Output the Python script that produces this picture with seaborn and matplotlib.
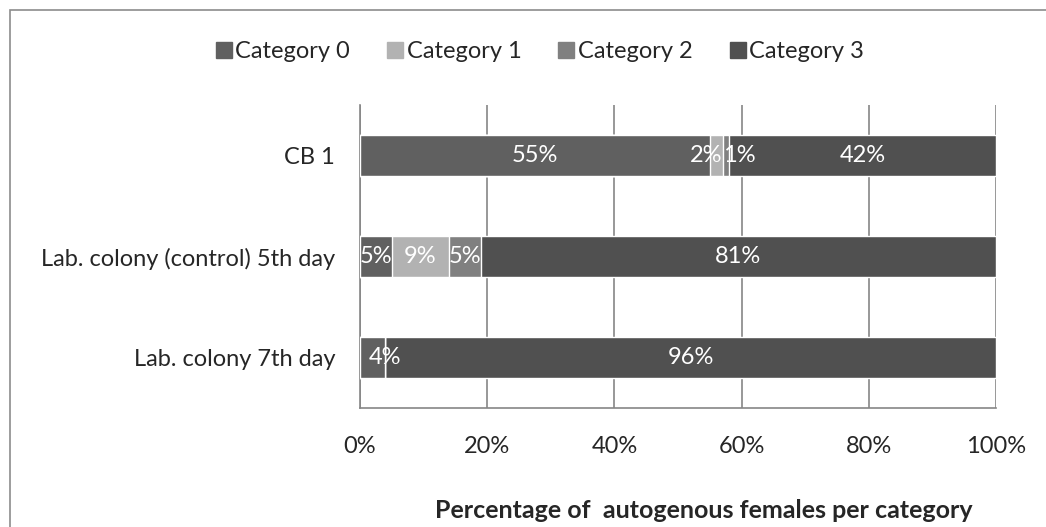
import numpy as np
import pandas as pd
import matplotlib.pyplot as plt
import seaborn as sns
from matplotlib.lines import Line2D
from matplotlib.patches import Rectangle

# data
groups = ['CB 1', 'Lab. colony (control) 5th day', 'Lab. colony 7th day']
categories = ['Category 0', 'Category 1', 'Category 2', 'Category 3']
cat0 = [55, 5, 4]
cat1 = [2, 9, 0]
cat2 = [1, 5, 0]
cat3 = [42, 81, 96]
colors = ['#606060', '#b2b2b2', '#808080', '#505050']

sns.set_style('white')
plt.rcParams['font.family'] = ['Lato', 'DejaVu Sans']
FS = 17

df = pd.DataFrame({'group': groups, 'Category 0': cat0, 'Category 1': cat1,
                   'Category 2': cat2, 'Category 3': cat3})
vals = df[categories].values
cum = np.cumsum(vals, axis=1)

fig = plt.figure(figsize=(10.46, 5.27), dpi=100)
ax = fig.add_axes([360/1046, 1-408/527, 636/1046, 303/527])

# stacked bars: draw cumulative totals from the largest down
for i in range(len(categories)-1, -1, -1):
    tmp = pd.DataFrame({'group': groups, 'total': cum[:, i]})
    sns.barplot(data=tmp, y='group', x='total', orient='h', color=colors[i],
                width=0.4, ax=ax, saturation=1, zorder=3)

# segment labels (narrow ones pushed apart like the original)
for r in range(len(groups)):
    for i in range(len(categories)):
        v = vals[r, i]
        if v == 0:
            continue
        x, ha = cum[r, i] - v/2, 'center'
        if r == 0 and i == 1:
            x, ha = cum[r, i], 'right'
        elif r == 0 and i == 2:
            x, ha = cum[r, i] - v, 'left'
        elif r == 2 and i == 0:
            x = cum[r, i]
        ax.text(x, r, f'{v}%', ha=ha, va='center',
                color='white', fontsize=FS, zorder=5)

ax.set_xlim(0, 100)
ax.set_ylim(2.5, -0.5)
ax.set_xticks([0, 20, 40, 60, 80, 100])
ax.set_xticklabels(['0%', '20%', '40%', '60%', '80%', '100%'], fontsize=FS)
ax.tick_params(axis='x', length=0, pad=20)
ax.tick_params(axis='y', length=0, pad=18, labelsize=FS)
ax.grid(axis='x', color='#868686', linewidth=1.2, zorder=0)
for s in ['top', 'right']:
    ax.spines[s].set_visible(False)
for s in ['left', 'bottom']:
    ax.spines[s].set_color('#868686')
    ax.spines[s].set_linewidth(1.2)
ax.set_ylabel('')
ax.set_xlabel('Percentage of  autogenous females per category', fontsize=18,
              fontweight='bold')
ax.xaxis.set_label_coords(704/1046, 1-499/527, transform=fig.transFigure)

handles = [Line2D([], [], marker='s', linestyle='', markersize=11,
                  markerfacecolor=c, markeredgecolor=c) for c in colors]
fig.legend(handles, categories, loc='center', bbox_to_anchor=(538/1046, 1-52/527),
           ncol=4, frameon=False, fontsize=FS, handletextpad=0.0,
           columnspacing=1.4, handlelength=1.0)

# outer chart frame
fig.patches.append(Rectangle((10/1046, -0.1), 1.2, 1-10/527+0.1,
                             transform=fig.transFigure, fill=False,
                             edgecolor='#8c8c8c', linewidth=1.2))

plt.savefig('out.png', dpi=100)
